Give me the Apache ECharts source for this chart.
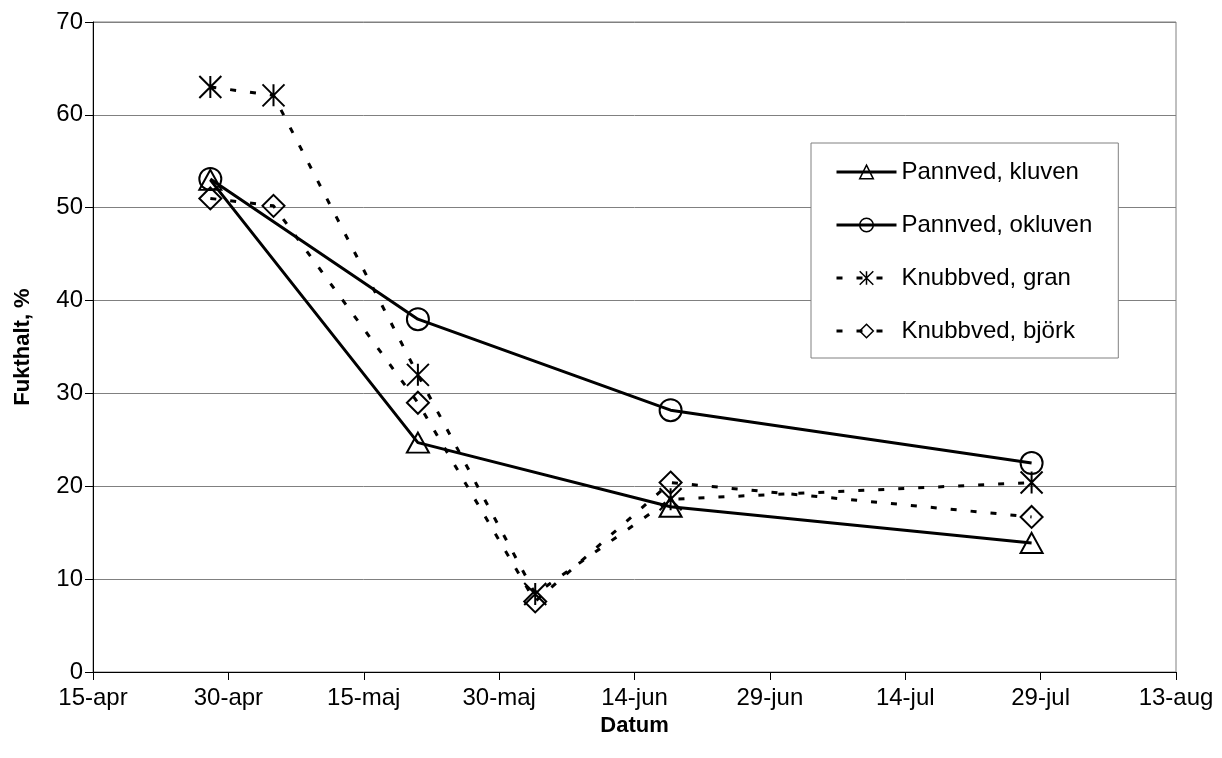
<!DOCTYPE html>
<html>
<head>
<meta charset="utf-8">
<title>Fukthalt</title>
<script src="https://cdn.jsdelivr.net/npm/echarts@6/dist/echarts.min.js"></script>
<style>
  html, body { margin: 0; padding: 0; background: #ffffff; }
  #chart { width: 1222px; height: 758px; }
</style>
</head>
<body>
<div id="chart"></div>
<script>
// Measurement dates (month-day) and moisture content in percent.
const pannvedKluvenDates  = ['04-28', '05-21', '06-18', '07-28'];
const pannvedKluven       = [53, 24.7, 17.8, 13.9];

const pannvedOkluvenDates = ['04-28', '05-21', '06-18', '07-28'];
const pannvedOkluven      = [53.1, 38, 28.2, 22.5];

const knubbGranDates      = ['04-28', '05-05', '05-21', '06-03', '06-18', '07-28'];
const knubbGran           = [63, 62.1, 32, 8.4, 18.6, 20.4];

const knubbBjorkDates     = ['04-28', '05-05', '05-21', '06-03', '06-18', '07-28'];
const knubbBjork          = [51, 50.2, 29, 7.6, 20.4, 16.7];

// Date tick labels, one every 15 days from 15 April.
const xTickLabels = ['15-apr', '30-apr', '15-maj', '30-maj', '14-jun', '29-jun', '14-jul', '29-jul', '13-aug'];
const yTicks = [0, 10, 20, 30, 40, 50, 60, 70];

const seriesNames = ['Pannved, kluven', 'Pannved, okluven', 'Knubbved, gran', 'Knubbved, björk'];

// Days since 15 April for a 'MM-DD' string.
function dayOffset(md) {
  const [m, d] = md.split('-').map(Number);
  const start = Date.UTC(2001, 3, 15);
  return Math.round((Date.UTC(2001, m - 1, d) - start) / 86400000);
}
function pairs(dates, values) {
  return dates.map((d, i) => [dayOffset(d), values[i]]);
}

const FONT = 'Arial, "Liberation Sans", sans-serif';
const starPath = 'path://M0,0 L100,100 M0,100 L100,0 M50,0 L50,100';

function makeSeries(name, data, symbol, size, dashed) {
  return {
    name: name,
    type: 'line',
    data: data,
    symbol: symbol,
    symbolSize: size,
    showAllSymbol: true,
    z: 3,
    lineStyle: {
      color: '#000000',
      width: 3,
      type: dashed ? [6, 14] : 'solid',
      cap: 'butt'
    },
    itemStyle: {
      color: 'rgba(0,0,0,0)',
      borderColor: '#000000',
      borderWidth: 2
    },
    emphasis: { disabled: true },
    silent: true
  };
}

const chart = echarts.init(document.getElementById('chart'), null, { renderer: 'canvas' });

chart.setOption({
  animation: false,
  backgroundColor: '#ffffff',
  textStyle: { fontFamily: FONT, color: '#000000' },
  grid: {
    left: 93,
    right: 46,
    top: 22,
    bottom: 86,
    show: true,
    borderColor: '#808080',
    borderWidth: 1,
    backgroundColor: 'transparent'
  },
  legend: {
    orient: 'vertical',
    left: 811,
    top: 143,
    padding: [17, 26, 15, 24],
    itemGap: 29,
    itemWidth: 60,
    itemHeight: 17,
    backgroundColor: '#ffffff',
    borderColor: '#808080',
    borderWidth: 1,
    borderRadius: 0,
    selectedMode: false,
    lineStyle: { width: 3 },
    itemStyle: { borderWidth: 1.5 },
    textStyle: { fontFamily: FONT, fontSize: 24, color: '#000000', lineHeight: 24 },
    data: seriesNames
  },
  xAxis: {
    type: 'value',
    min: 0,
    max: 120,
    interval: 15,
    name: 'Datum',
    nameLocation: 'middle',
    nameGap: 35,
    nameTextStyle: { fontFamily: FONT, fontSize: 22, fontWeight: 'bold', color: '#000000' },
    axisLine: { show: true, onZero: false, lineStyle: { color: '#000000', width: 1 } },
    axisTick: { show: true, inside: false, length: 8, lineStyle: { color: '#000000' } },
    axisLabel: {
      fontFamily: FONT,
      fontSize: 24,
      color: '#000000',
      margin: 14,
      formatter: function (v) { return xTickLabels[Math.round(v / 15)] || ''; }
    },
    splitLine: { show: false }
  },
  yAxis: {
    type: 'value',
    min: yTicks[0],
    max: yTicks[yTicks.length - 1],
    interval: 10,
    name: 'Fukthalt, %',
    nameLocation: 'middle',
    nameRotate: 90,
    nameGap: 59,
    nameTextStyle: { fontFamily: FONT, fontSize: 22, fontWeight: 'bold', color: '#000000' },
    axisLine: { show: true, lineStyle: { color: '#000000', width: 1 } },
    axisTick: { show: true, inside: false, length: 8, lineStyle: { color: '#000000' } },
    axisLabel: { fontFamily: FONT, fontSize: 24, color: '#000000', margin: 10 },
    splitLine: { show: true, lineStyle: { color: '#808080', width: 1 } }
  },
  series: [
    makeSeries(seriesNames[0], pairs(pannvedKluvenDates, pannvedKluven), 'triangle', [22, 20], false),
    makeSeries(seriesNames[1], pairs(pannvedOkluvenDates, pannvedOkluven), 'circle', 22, false),
    makeSeries(seriesNames[2], pairs(knubbGranDates, knubbGran), starPath, 22, true),
    makeSeries(seriesNames[3], pairs(knubbBjorkDates, knubbBjork), 'diamond', [22, 22], true)
  ]
});
</script>
</body>
</html>
